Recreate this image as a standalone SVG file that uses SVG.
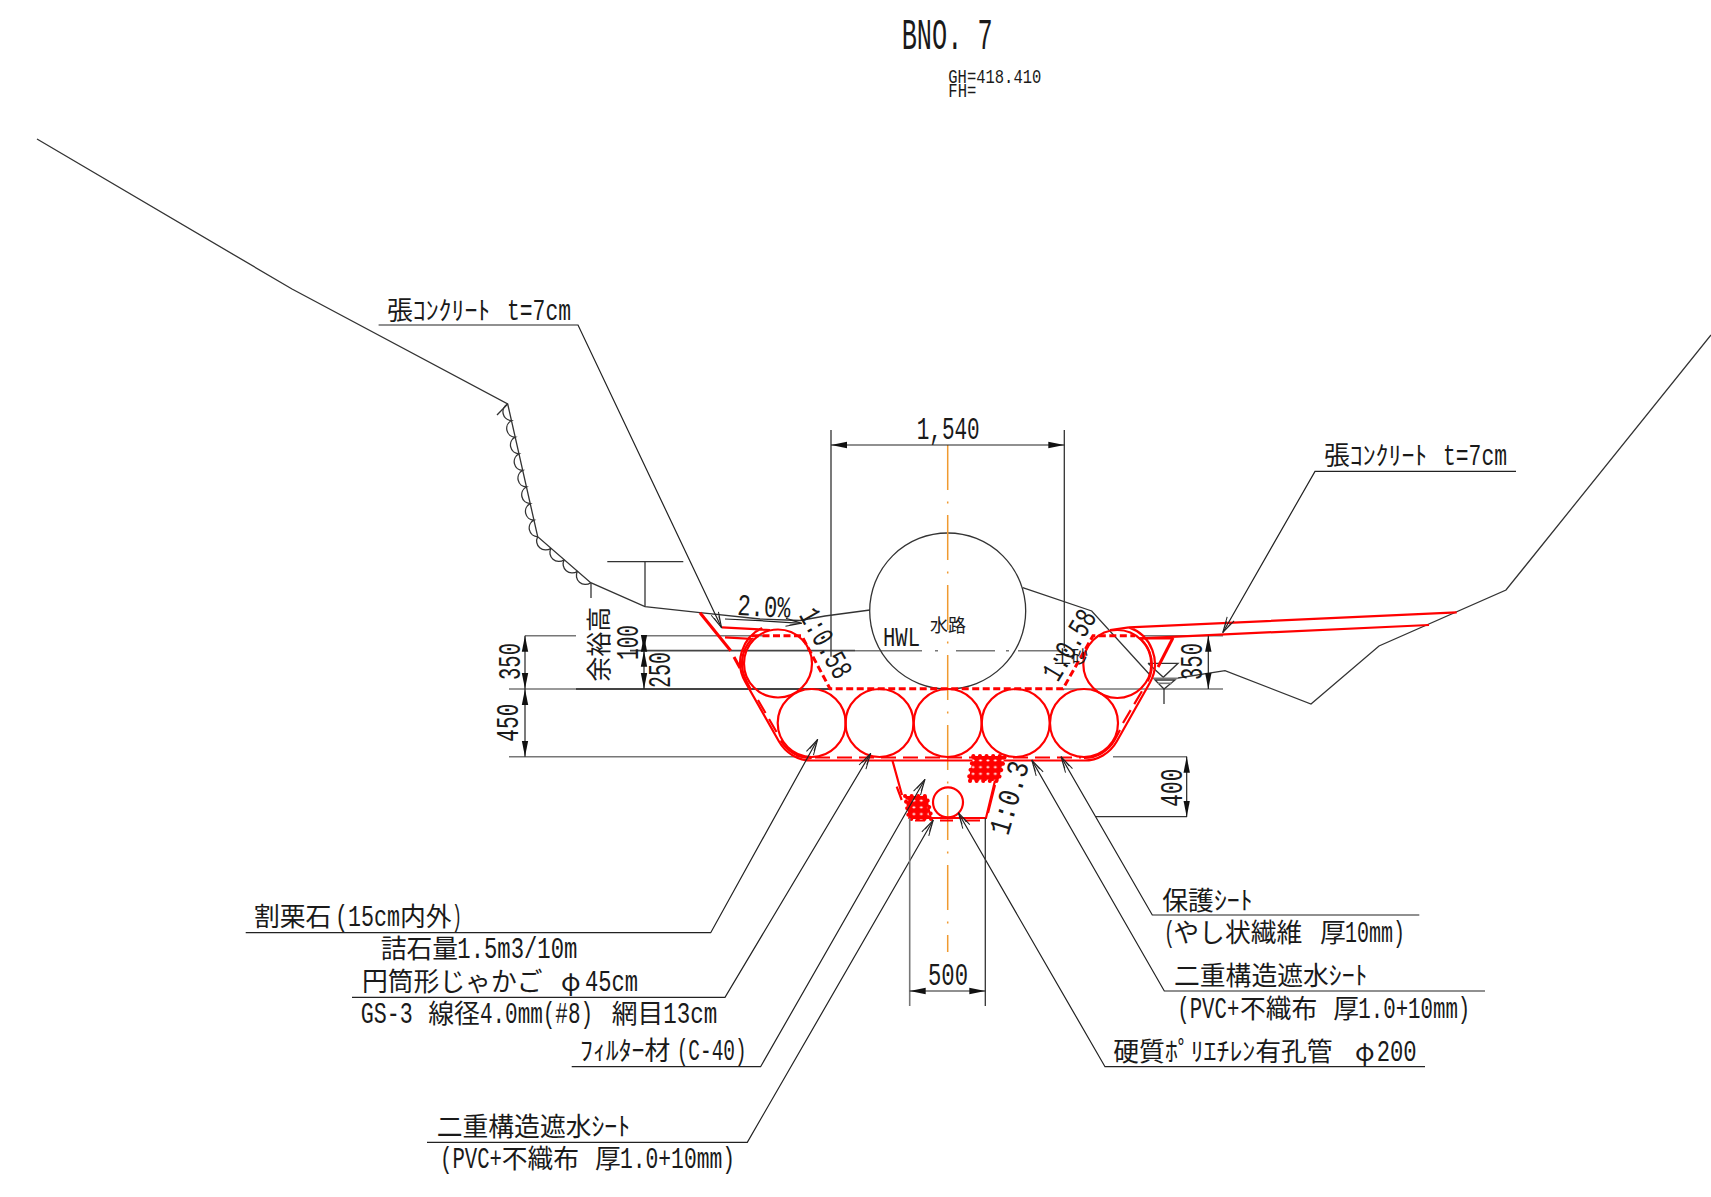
<svg xmlns="http://www.w3.org/2000/svg" width="1711" height="1197" viewBox="0 0 1711 1197">
<style>
text{font-family:"Liberation Mono","Noto Sans CJK JP",monospace;fill:#1a1a1a;white-space:pre}
.k{font-size:25.8px;font-family:"Noto Sans CJK JP",sans-serif}
.L{font-size:30px;font-family:"Liberation Mono",monospace}
.d{font-size:30.5px}
.c{font-family:"Noto Sans CJK JP",sans-serif}
.ln{fill:none;stroke:#333;stroke-width:1.3}
.gy{fill:none;stroke:#777;stroke-width:1.6}
.dk{fill:none;stroke:#444;stroke-width:1.8}
.r{fill:none;stroke:#f00;stroke-width:2.2}
.rt{fill:none;stroke:#f00;stroke-width:3}
.rd{fill:none;stroke:#f00;stroke-width:3;stroke-dasharray:7 3.5}
.rl{fill:none;stroke:#f00;stroke-width:2.2;stroke-dasharray:15 7}
.dim{fill:none;stroke:#222;stroke-width:1.2;marker-start:url(#da);marker-end:url(#da)}
.lead{fill:none;stroke:#222;stroke-width:1.2;marker-end:url(#oa)}
.hb{fill:url(#hatch);stroke:#f00;stroke-width:4;stroke-linecap:round;stroke-linejoin:round;stroke-dasharray:0.1 6.5}
</style>
<defs>
<marker id="da" markerUnits="userSpaceOnUse" markerWidth="18" markerHeight="10" refX="16" refY="5" orient="auto-start-reverse"><path d="M0,1.8L16,5L0,8.2z" fill="#111"/></marker>
<marker id="oa" markerUnits="userSpaceOnUse" markerWidth="20" markerHeight="12" refX="18" refY="6" orient="auto"><path d="M2,2L18,6L2,10M6,3.5L18,6L6,8.5" fill="none" stroke="#222" stroke-width="1"/></marker>
<pattern id="hatch" patternUnits="userSpaceOnUse" width="7.4" height="6.7">
<rect width="7.4" height="6.7" fill="#f00"/>
<ellipse cx="3.7" cy="3.3" rx="1.5" ry="1" fill="#fff"/>
</pattern>
</defs>

<g id="ground">
<path class="ln" d="M37,139L292,289L507.7,404L537.7,536.7L590.7,582.7L645,606.7L700,612.7L760,619L800,620.5L825,616L870,610"/>
<path class="ln" d="M1022.7,587.7L1091.7,611L1150,675"/>
<path class="ln" d="M1178,678L1225,670.7L1311,704L1379,646L1506,590L1711,335"/>
<path class="ln" d="M507.7,404L497,415"/>
<path class="ln" d="M507.7,404a8.8,8.8 0 0 0 3.75,16.6a8.8,8.8 0 0 0 3.75,16.6a8.8,8.8 0 0 0 3.75,16.6a8.8,8.8 0 0 0 3.75,16.6a8.8,8.8 0 0 0 3.75,16.6a8.8,8.8 0 0 0 3.75,16.6a8.8,8.8 0 0 0 3.75,16.6a8.8,8.8 0 0 0 3.75,16.6"/>
<path class="ln" d="M537.7,536.7a9,9 0 0 0 13.25,11.5a9,9 0 0 0 13.25,11.5a9,9 0 0 0 13.25,11.5a9,9 0 0 0 13.25,11.5"/>
<path class="ln" d="M591,583V598"/>
</g>

<g id="levels">
<path class="gy" d="M525,635.7H576M643,635.7H766"/>
<path class="dk" d="M630,650.7H855"/>
<path class="gy" d="M855,650.7H922M935,650.7H938M956,650.7H995M1006,650.7H1009M1018,650.7H1060"/>
<path class="gy" d="M509,689H576"/>
<path class="dk" d="M576,689H830"/>
<path class="gy" d="M1063,689H1223"/>
<path class="gy" d="M1143,635.7H1223"/>
<path class="gy" d="M509,756.7H808M1113,756.7H1187"/>
<path class="ln" d="M1096,816.7H1187"/>
<path class="ln" d="M607.3,561.7H683.3"/>
<path class="ln" d="M645,561.7V606.7"/>
</g>

<g id="water-level">
<path class="ln" d="M1148,663.3H1178L1163.3,677.3L1148,663.3"/>
<path class="gy" d="M1153,678.3H1178"/>
<path class="ln" d="M1155,680H1175L1164,689Z"/>
<path class="gy" d="M1158,683.3H1172"/>
<path class="ln" d="M1164,689V704"/>
</g>

<g id="channel">
<circle class="ln" cx="947.7" cy="611" r="78"/>
</g>

<g id="centerline">
<path d="M947.7,445V952" fill="none" stroke="#f09a30" stroke-width="1.5" stroke-dasharray="45 11.5 2 11.5"/>
</g>

<g id="gabions">
<circle class="r" cx="778" cy="663.5" r="34"/>
<circle class="r" cx="1117.3" cy="664" r="34"/>
<circle class="r" cx="811.7" cy="723" r="34"/>
<circle class="r" cx="879.5" cy="723" r="34"/>
<circle class="r" cx="947.7" cy="723" r="34"/>
<circle class="r" cx="1015.7" cy="723" r="34"/>
<circle class="r" cx="1084" cy="723" r="34"/>
<circle class="r" cx="948" cy="802.3" r="15"/>
</g>

<g id="sheet">
<path class="r" d="M722,627.3L770,630M762,628A38.5,38.5 0 0 0 745.3,682L779,741.5A37.5,37.5 0 0 0 811.7,760.5H1084A37.5,37.5 0 0 0 1116.7,741.5L1150,682.5A38.5,38.5 0 0 0 1129,627.4L1456.7,612.3"/>
<path class="r" d="M1110,630L1129,627.4"/>
<path class="r" d="M725,637.3L751.7,639A36,36 0 0 0 747,682L751,690"/>
<path class="rl" d="M758,700L780,738"/>
<path class="r" d="M780.7,740.5A35,35 0 0 0 811.7,758"/>
<path class="rl" d="M815,757.5H1081"/>
<path class="r" d="M1084,758A35,35 0 0 0 1114.5,740.3L1120,730"/>
<path class="rl" d="M1123,723L1145,686"/>
<path class="r" d="M1147.8,681.3A35.5,35.5 0 0 0 1140,638.3H1173"/>
<path class="rt" d="M700,612.7L730.7,650.7"/>
<path class="rt" d="M734,657L740,668"/>
<path class="rt" d="M1173,637.7L1158,667"/>
<path class="r" d="M1140,638.3L1429,625"/>
<path class="rd" d="M752,635.7H801.7L830,688.7H1063L1093,635.7H1135"/>
<path class="r" d="M892.3,760L902,795M908.3,818H986L1000,760"/>
<path class="r" d="M896.7,786.7L901.7,800M995,785L988,813M915,820.5H925M940,820.5H953M965,820.5H980"/>
<polygon class="hb" points="973.3,756 1005,756 998.3,781 968.3,781"/>
<polygon class="hb" points="905,796 926.7,796 932,819 909,819"/>
</g>

<g id="connectors">
<path class="lead" d="M378.6,325H578L721.7,628"/>
<path class="lead" d="M1516,471.4H1315L1222.7,632.7"/>
<path class="lead" d="M245.7,932.7H710.7L817.7,739.3"/>
<path class="lead" d="M352,997.3H725L870.7,753.3"/>
<path class="lead" d="M571.7,1066.7H760.6L925,779.3"/>
<path class="lead" d="M427,1142.3H747.3L933.3,820"/>
<path class="lead" d="M1419.3,915H1152.3L1061,756.7"/>
<path class="lead" d="M1485,991H1164.3L1031.7,760"/>
<path class="lead" d="M1425,1066.7H1105L958.3,812.7"/>
<path d="M725,619L760,620.7L801.7,623.3" fill="none" stroke="#222" stroke-width="1.2" marker-end="url(#oa)"/>
</g>

<g id="dimensions">
<path class="ln" d="M831,430V656.7M1064.3,430V648"/>
<path class="dim" d="M831,445H1064.3"/>
<path class="dim" d="M525,635.7V689"/>
<path class="dim" d="M525,689V756.7"/>
<path class="dim" d="M644,635.7V650.7"/>
<path class="dim" d="M644,650.7V689"/>
<path class="dim" d="M1208.3,635.7V689"/>
<path class="dim" d="M1186.7,756.7V816.7"/>
<path class="gy" d="M909.7,818V1006"/>
<path class="ln" d="M985.3,818V1006"/>
<path class="dim" d="M909.7,991H985.3"/>
</g>

<g id="labels">
<text x="901.7" y="49.3" font-size="44" textLength="91" lengthAdjust="spacingAndGlyphs">BNO. 7</text>
<text x="948.3" y="82.7" font-size="20" textLength="93" lengthAdjust="spacingAndGlyphs">GH=418.410</text>
<text x="948.3" y="97.3" font-size="20" textLength="28" lengthAdjust="spacingAndGlyphs">FH=</text>
<text class="d" x="916.7" y="439" textLength="63" lengthAdjust="spacingAndGlyphs">1,540</text>
<text class="d" x="928" y="985" textLength="40" lengthAdjust="spacingAndGlyphs">500</text>
<text x="883" y="646" font-size="28" textLength="37" lengthAdjust="spacingAndGlyphs">HWL</text>
<text class="c" x="930" y="631.7" font-size="18">水路</text>
<text class="c" x="1054" y="663" font-size="17">土砂</text>
<text class="d" transform="translate(737,615) rotate(3)" textLength="53" lengthAdjust="spacingAndGlyphs">2.0%</text>
<text class="d" transform="translate(798.5,615) rotate(60.5)" textLength="76" lengthAdjust="spacingAndGlyphs">1:0.58</text>
<text class="d" transform="translate(1057.7,683) rotate(-59)" textLength="77" lengthAdjust="spacingAndGlyphs">1:0.58</text>
<text class="d" transform="translate(1008,836.6) rotate(-73.5)" textLength="75" lengthAdjust="spacingAndGlyphs">1:0.3</text>
<text class="d" transform="translate(520,680) rotate(-90)" textLength="37" lengthAdjust="spacingAndGlyphs">350</text>
<text class="d" transform="translate(518,741.7) rotate(-90)" textLength="38" lengthAdjust="spacingAndGlyphs">450</text>
<text class="d" transform="translate(638,660) rotate(-90)" textLength="35" lengthAdjust="spacingAndGlyphs">100</text>
<text class="d" transform="translate(670,688) rotate(-90)" textLength="36" lengthAdjust="spacingAndGlyphs">250</text>
<text class="d" transform="translate(1202,680) rotate(-90)" textLength="37" lengthAdjust="spacingAndGlyphs">350</text>
<text class="d" transform="translate(1182,806.7) rotate(-90)" textLength="38" lengthAdjust="spacingAndGlyphs">400</text>
<text class="c" transform="translate(608,681.7) rotate(-90)" font-size="25">余裕高</text>
<text class="k" x="387" y="320">張ｺﾝｸﾘｰﾄ <tspan class="L" x="507" textLength="64" lengthAdjust="spacingAndGlyphs">t=7cm</tspan></text>
<text class="k" x="1324" y="465">張ｺﾝｸﾘｰﾄ <tspan class="L" x="1443" textLength="64" lengthAdjust="spacingAndGlyphs">t=7cm</tspan></text>
<text class="k" x="254" y="926">割栗石<tspan class="L" x="335" textLength="65" lengthAdjust="spacingAndGlyphs">(15cm</tspan><tspan x="400">内外</tspan><tspan class="L" x="452" textLength="10" lengthAdjust="spacingAndGlyphs">)</tspan></text>
<text class="k" x="380.7" y="958">詰石量<tspan class="L" x="457.3" textLength="120" lengthAdjust="spacingAndGlyphs">1.5m3/10m</tspan></text>
<text class="k" x="362" y="991">円筒形じゃかご <tspan x="561">φ</tspan><tspan class="L" x="585" textLength="53" lengthAdjust="spacingAndGlyphs">45cm</tspan></text>
<text class="k" x="428.3" y="1023"><tspan class="L" x="360.7" textLength="52" lengthAdjust="spacingAndGlyphs">GS-3</tspan> <tspan x="428.3">線径</tspan><tspan class="L" x="480" textLength="113" lengthAdjust="spacingAndGlyphs">4.0mm(#8)</tspan> <tspan x="611.7">網目</tspan><tspan class="L" x="663.3" textLength="54" lengthAdjust="spacingAndGlyphs">13cm</tspan></text>
<text class="k" x="580" y="1060">ﾌｨﾙﾀｰ材<tspan class="L" x="676.7" textLength="70" lengthAdjust="spacingAndGlyphs">(C-40)</tspan></text>
<text class="k" x="436.7" y="1136">二重構造遮水ｼｰﾄ</text>
<text class="k" y="1168"><tspan class="L" x="440" textLength="62" lengthAdjust="spacingAndGlyphs">(PVC+</tspan><tspan x="501.7">不織布</tspan> <tspan x="595">厚</tspan><tspan class="L" x="620" textLength="115" lengthAdjust="spacingAndGlyphs">1.0+10mm)</tspan></text>
<text class="k" x="1162.3" y="910">保護ｼｰﾄ</text>
<text class="k" y="941.7"><tspan class="L" x="1164" textLength="11" lengthAdjust="spacingAndGlyphs">(</tspan><tspan x="1173.3">やし状繊維</tspan> <tspan x="1320">厚</tspan><tspan class="L" x="1345" textLength="60" lengthAdjust="spacingAndGlyphs">10mm)</tspan></text>
<text class="k" x="1174" y="985">二重構造遮水ｼｰﾄ</text>
<text class="k" y="1017.7"><tspan class="L" x="1177.3" textLength="62" lengthAdjust="spacingAndGlyphs">(PVC+</tspan><tspan x="1240">不織布</tspan> <tspan x="1333.3">厚</tspan><tspan class="L" x="1358.3" textLength="112" lengthAdjust="spacingAndGlyphs">1.0+10mm)</tspan></text>
<text class="k" x="1113.3" y="1060.7">硬質ﾎﾟﾘｴﾁﾚﾝ有孔管 <tspan x="1355">φ</tspan><tspan class="L" x="1376.7" textLength="40" lengthAdjust="spacingAndGlyphs">200</tspan></text>
</g>
</svg>
